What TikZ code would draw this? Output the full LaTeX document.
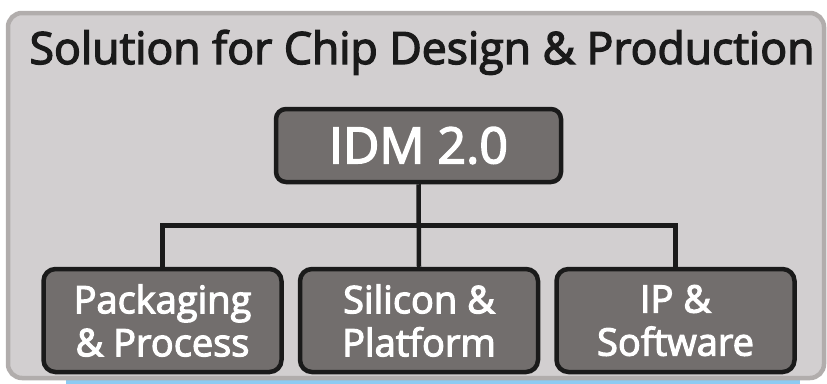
\documentclass[tikz,border=0pt]{standalone}
\usepackage{fontspec}
\setmainfont{Open Sans}[FakeBold=3]
\usepackage{tikz}
\usetikzlibrary{positioning}
\definecolor{framegray}{HTML}{D2CFD0}
\definecolor{framerim}{HTML}{B1ADAC}
\definecolor{boxgray}{HTML}{726E6D}
\definecolor{stripblue}{HTML}{8CCBF3}
\definecolor{inkblack}{HTML}{1A1A1A}

\begin{document}
\begin{tikzpicture}[x=1pt, y=-1pt,
		frame/.style={draw=framerim, fill=framegray, line width=4.5pt, rounded corners=14pt},
		topbox/.style={draw=inkblack, fill=boxgray, line width=4.5pt, rounded corners=10pt,
			minimum width=285pt, minimum height=73pt, text=white, inner sep=0pt,
			font=\fontsize{50}{60}\selectfont},
		leafbox/.style={draw=inkblack, fill=boxgray, line width=4.5pt, rounded corners=12pt,
			minimum width=238pt, minimum height=103pt, text=white, inner sep=0pt, align=center,
			font=\fontsize{38}{43}\selectfont},
		link/.style={draw=inkblack, line width=4.5pt, line join=miter}]
	\useasboundingbox (0,0) rectangle (827,383);
	
	% 背景框
	\fill[stripblue] (66,380) rectangle (800,390);
	\draw[frame] (8,13) rectangle (824,378);
	\node[text=inkblack, font=\fontsize{44.5}{50}\selectfont, anchor=base] (title) at (422,64)
		{Solution for Chip Design \& Production};
	
	% 上层
	\node[topbox] (idm) at (418.5,145.5) {IDM 2.0};
	
	% 下层
	\node[leafbox] (sili) at (419,320.5) {Silicon \&\\Platform};
	\node[leafbox, left=14pt of sili] (pack) {Packaging\\\& Process};
	\node[leafbox, right=14pt of sili] (soft) {IP \&\\Software};
	
	% 连线
	\coordinate (jn) at (idm.south |- 0,225.5);
	\draw[link] (idm.south) -- (sili.north);
	\draw[link] (pack.north) -- (pack.north |- jn) -- (soft.north |- jn) -- (soft.north);
\end{tikzpicture}
\end{document}
